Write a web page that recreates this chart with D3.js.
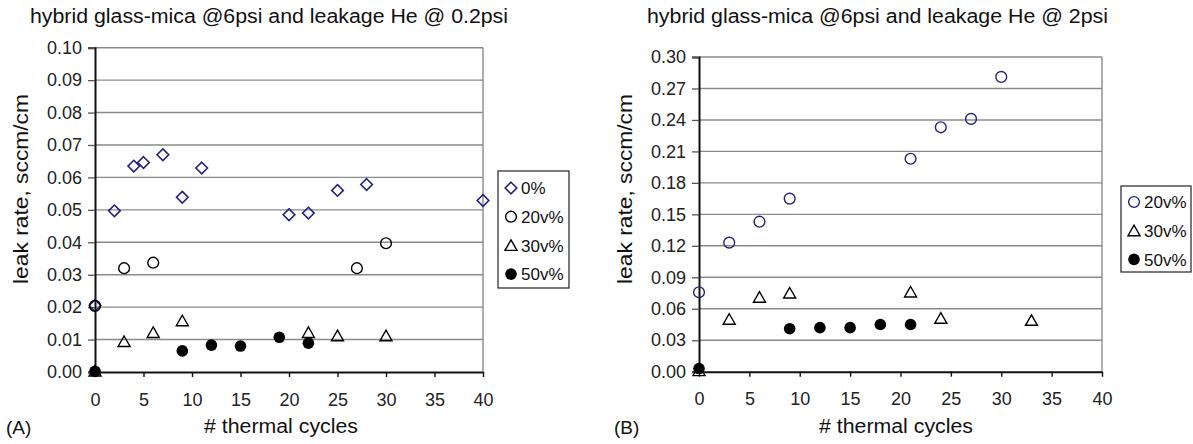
<!DOCTYPE html>
<html>
<head>
<meta charset="utf-8">
<script src="https://cdn.jsdelivr.net/npm/d3@7"></script>
<style>
  html, body { margin: 0; padding: 0; background: #fff; }
  svg { display: block; font-family: "Liberation Sans", Arial, Helvetica, sans-serif; }
</style>
</head>
<body>
<svg id="chart" width="1193" height="444"></svg>
<script>
// ---------- data ----------
const xTicks = [0, 5, 10, 15, 20, 25, 30, 35, 40];
const leftYTicks = [0, 0.01, 0.02, 0.03, 0.04, 0.05, 0.06, 0.07, 0.08, 0.09, 0.10];
const rightYTicks = [0, 0.03, 0.06, 0.09, 0.12, 0.15, 0.18, 0.21, 0.24, 0.27, 0.30];

const leftTitle = "hybrid glass-mica @6psi and leakage He @ 0.2psi";
const rightTitle = "hybrid glass-mica @6psi and leakage He @ 2psi";
const xTitle = "# thermal cycles";
const yTitle = "leak rate, sccm/cm";

// Panel A (He @ 0.2 psi)
const aX0 = [0, 2, 4, 5, 7, 9, 11, 20, 22, 25, 28, 40];
const aY0 = [0.0205, 0.0497, 0.0635, 0.0646, 0.0670, 0.0539, 0.0629, 0.0485, 0.0490, 0.0560, 0.0578, 0.0529];
const aX20 = [0, 3, 6, 27, 30];
const aY20 = [0.0204, 0.0320, 0.0337, 0.0320, 0.0397];
const aX30 = [0, 3, 6, 9, 22, 25, 30];
const aY30 = [0.0003, 0.0094, 0.0122, 0.0158, 0.0122, 0.0112, 0.0112];
const aX50 = [0, 9, 12, 15, 19, 22];
const aY50 = [0.0002, 0.0065, 0.0083, 0.0080, 0.0107, 0.0089];

// Panel B (He @ 2 psi)
const bX20 = [0, 3, 6, 9, 21, 24, 27, 30];
const bY20 = [0.0757, 0.123, 0.143, 0.165, 0.203, 0.233, 0.241, 0.281];
const bX30 = [0, 3, 6, 9, 21, 24, 33];
const bY30 = [0.001, 0.050, 0.071, 0.075, 0.076, 0.051, 0.049];
const bX50 = [0, 9, 12, 15, 18, 21];
const bY50 = [0.003, 0.041, 0.042, 0.042, 0.045, 0.045];

// ---------- styles ----------
const NAVY = "#23237d";
const series = {
  "0%":   { shape: "diamond", stroke: NAVY, fill: "none" },
  "20v%": { shape: "circle", stroke: "#000", fill: "none" },
  "20v%b":{ shape: "circle", stroke: NAVY, fill: "none" },
  "30v%": { shape: "triangle", stroke: "#000", fill: "none" },
  "50v%": { shape: "dot", stroke: "#000", fill: "#000" }
};

const svg = d3.select("#chart");

function drawMarker(g, shape, stroke, fill) {
  if (shape === "diamond") {
    g.append("path").attr("d", "M0,-5.8L5.8,0L0,5.8L-5.8,0Z")
      .attr("fill", "none").attr("stroke", stroke).attr("stroke-width", 1.6);
  } else if (shape === "circle") {
    g.append("circle").attr("r", 5.4)
      .attr("fill", "none").attr("stroke", stroke).attr("stroke-width", 1.4);
  } else if (shape === "triangle") {
    g.append("path").attr("d", "M0,-5.5L6,5L-6,5Z")
      .attr("fill", "none").attr("stroke", stroke).attr("stroke-width", 1.4).attr("stroke-linejoin", "miter");
  } else if (shape === "dot") {
    g.append("circle").attr("r", 5.8).attr("fill", fill).attr("stroke", "none");
  }
}

function panel(cfg) {
  const x = d3.scaleLinear().domain([0, 40]).range([cfg.x0, cfg.x1]);
  const y = d3.scaleLinear().domain([0, cfg.yMax]).range([cfg.yb, cfg.yt]);
  const root = svg.append("g");

  // gridlines
  root.append("g").selectAll("line").data(cfg.yTicks.slice(1)).join("line")
    .attr("x1", cfg.x0).attr("x2", cfg.x1)
    .attr("y1", d => y(d)).attr("y2", d => y(d))
    .attr("stroke", "#8a8a8a").attr("stroke-width", 1.4);
  // right border
  root.append("line").attr("x1", cfg.x1).attr("x2", cfg.x1)
    .attr("y1", y(cfg.yMax)).attr("y2", y(0))
    .attr("stroke", "#8a8a8a").attr("stroke-width", 1.4);

  // y axis
  const ya = root.append("g").attr("transform", `translate(${cfg.x0},0)`)
    .call(d3.axisLeft(y).tickValues(cfg.yTicks).tickFormat(d3.format(".2f"))
      .tickSize(7).tickPadding(6));
  ya.select(".domain").attr("stroke", "#111").attr("stroke-width", 2);
  ya.selectAll(".tick line").attr("stroke", "#555").attr("stroke-width", 1.3);
  ya.selectAll("text").attr("font-size", 18).attr("fill", "#222")
    .attr("font-family", "Liberation Sans, Arial, sans-serif");

  // x axis
  const xa = root.append("g").attr("transform", `translate(0,${cfg.yb})`)
    .call(d3.axisBottom(x).tickValues(xTicks).tickFormat(d3.format("d"))
      .tickSize(5).tickPadding(16).tickSizeOuter(0));
  xa.select(".domain").attr("stroke", "#111").attr("stroke-width", 2);
  xa.selectAll(".tick line").attr("stroke", "#111").attr("stroke-width", 1.4);
  xa.selectAll("text").attr("font-size", 18).attr("fill", "#222")
    .attr("font-family", "Liberation Sans, Arial, sans-serif");

  // data
  cfg.data.forEach(s => {
    const st = series[s.key];
    s.xs.forEach((xv, i) => {
      const g = root.append("g").attr("transform", `translate(${x(xv)},${y(s.ys[i])})`);
      drawMarker(g, st.shape, st.stroke, st.fill);
    });
  });

  // titles
  root.append("text").attr("x", cfg.titleX).attr("y", 23)
    .attr("font-size", 20).attr("fill", "#111")
    .attr("textLength", cfg.titleLen).attr("lengthAdjust", "spacingAndGlyphs")
    .text(cfg.title);
  root.append("text").attr("x", cfg.xTitleX).attr("y", 433)
    .attr("font-size", 20).attr("fill", "#111").attr("text-anchor", "middle")
    .attr("textLength", 154).attr("lengthAdjust", "spacingAndGlyphs")
    .text(xTitle);
  root.append("text")
    .attr("transform", `translate(${cfg.yTitleX},189) rotate(-90)`)
    .attr("font-size", 20).attr("fill", "#111").attr("text-anchor", "middle")
    .attr("textLength", 190).attr("lengthAdjust", "spacingAndGlyphs")
    .text(yTitle);
  root.append("text").attr("x", cfg.tagX).attr("y", 434)
    .attr("font-size", 19).attr("fill", "#111").text(cfg.tag);

  // legend
  const L = cfg.legend;
  root.append("rect").attr("x", L.x).attr("y", L.y).attr("width", L.w).attr("height", L.h)
    .attr("fill", "#fff").attr("stroke", "#222").attr("stroke-width", 1.2);
  L.items.forEach((it, i) => {
    const cy = L.firstY + i * L.step;
    const st = series[it.key];
    const g = root.append("g").attr("transform", `translate(${L.x + 13},${cy})`);
    drawMarker(g, st.shape, st.stroke, st.fill);
    root.append("text").attr("x", L.x + 23).attr("y", cy).attr("dy", "0.36em")
      .attr("font-size", 17).attr("fill", "#111").text(it.label);
  });
}

panel({
  x0: 95, x1: 483, yt: 47.7, yb: 372, yMax: 0.10, yTicks: leftYTicks,
  title: leftTitle, titleX: 30, titleLen: 478, xTitleX: 281, yTitleX: 28,
  tag: "(A)", tagX: 6,
  data: [
    { key: "0%", xs: aX0, ys: aY0 },
    { key: "20v%", xs: aX20, ys: aY20 },
    { key: "30v%", xs: aX30, ys: aY30 },
    { key: "50v%", xs: aX50, ys: aY50 }
  ],
  legend: { x: 498, y: 171, w: 71, h: 117, firstY: 188, step: 28.7,
    items: [ { key: "0%", label: "0%" }, { key: "20v%", label: "20v%" },
             { key: "30v%", label: "30v%" }, { key: "50v%", label: "50v%" } ] }
});

panel({
  x0: 699, x1: 1102, yt: 57, yb: 371.7, yMax: 0.30, yTicks: rightYTicks,
  title: rightTitle, titleX: 647, titleLen: 461, xTitleX: 896, yTitleX: 632,
  tag: "(B)", tagX: 614,
  data: [
    { key: "20v%b", xs: bX20, ys: bY20 },
    { key: "30v%", xs: bX30, ys: bY30 },
    { key: "50v%", xs: bX50, ys: bY50 }
  ],
  legend: { x: 1121, y: 186, w: 70, h: 86, firstY: 202, step: 28.7,
    items: [ { key: "20v%b", label: "20v%" }, { key: "30v%", label: "30v%" },
             { key: "50v%", label: "50v%" } ] }
});
</script>
</body>
</html>
